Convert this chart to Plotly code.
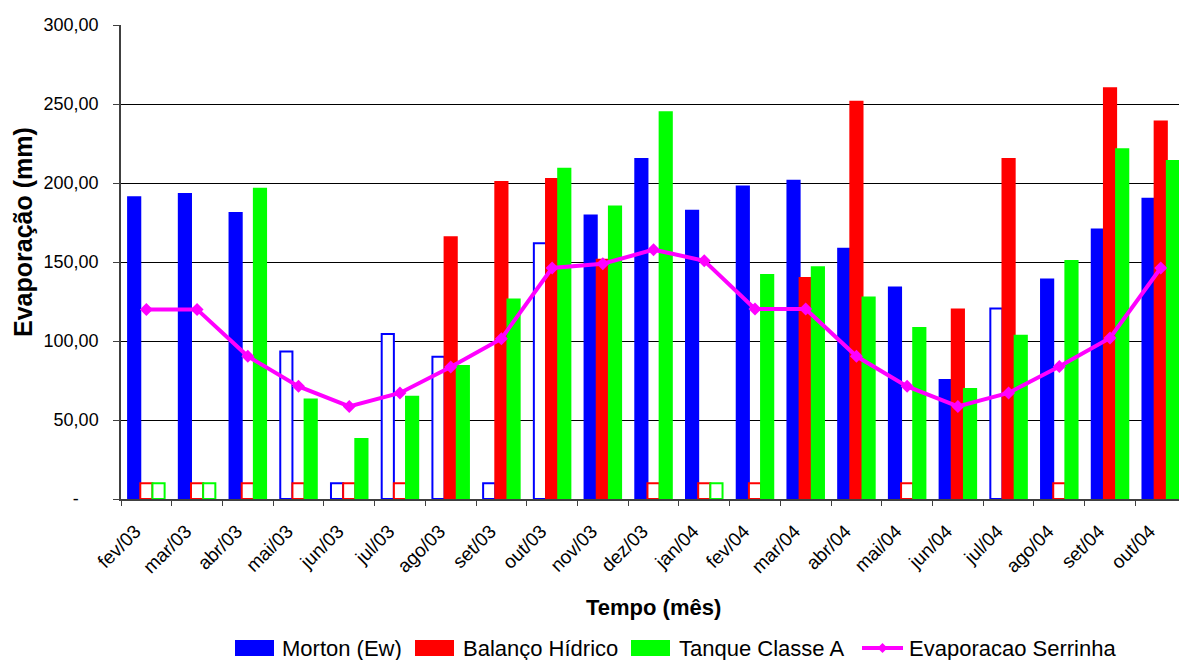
import plotly.graph_objects as go

# Months (fev/03 .. out/04)
months = ["fev/03", "mar/03", "abr/03", "mai/03", "jun/03", "jul/03", "ago/03",
          "set/03", "out/03", "nov/03", "dez/03", "jan/04", "fev/04", "mar/04",
          "abr/04", "mai/04", "jun/04", "jul/04", "ago/04", "set/04", "out/04"]

# Evaporation series (mm)
morton = [191, 193, 181, 93.4, 10, 104.4, 90, 10, 161.8, 179.5, 215.2, 182.5,
          197.8, 201.5, 158.4, 133.9, 75.3, 120.6, 139, 170.6, 190]
balanco = [10, 10, 10, 10, 10, 10, 165.6, 200.6, 202.5, 151.5, 10, 10,
           10, 139.9, 251.5, 10, 120, 215.2, 10, 260, 239]
tanque = [10, 10, 196.4, 63, 38, 64.7, 84.2, 126.3, 209, 185.2, 244.7, 10,
          141.8, 146.6, 127.6, 108.2, 69.6, 103.4, 150.6, 221.3, 213.9]
serrinha = [120, 120, 90.3, 71.3, 58.6, 67.1, 83.5, 101.5, 146.2, 148.9, 157.8,
            150.8, 120.3, 120.3, 90.3, 71.3, 58.6, 67.1, 83.9, 101.9, 146.2]

# Months drawn as outline-only bars in each series
morton_open = [3, 4, 5, 6, 7, 8, 17]
balanco_open = [0, 1, 2, 3, 4, 5, 10, 11, 12, 15, 18]
tanque_open = [0, 1, 11]

y_ticks = [0, 50, 100, 150, 200, 250, 300]
y_ticktext = ["-\u00a0\u00a0\u00a0\u00a0", "50,00", "100,00", "150,00",
              "200,00", "250,00", "300,00"]

FONT = "Liberation Sans, Arial, sans-serif"
W, H = 1179, 660
L, R, T, B = 121, 0, 25, 161


def fills(color, open_idx, n):
    return ["white" if i in open_idx else color for i in range(n)]


fig = go.Figure()
for name, vals, color, open_idx in [
    ("Morton (Ew)", morton, "#0000FF", morton_open),
    ("Balanço Hídrico", balanco, "#FF0000", balanco_open),
    ("Tanque Classe A", tanque, "#00FF00", tanque_open),
]:
    fig.add_trace(go.Bar(
        x=months, y=vals, name=name,
        marker=dict(color=fills(color, open_idx, len(vals)),
                    line=dict(color=color, width=2)),
        showlegend=False,
    ))

fig.add_trace(go.Scatter(
    x=months, y=serrinha, name="Evaporacao Serrinha", mode="lines+markers",
    line=dict(color="#FF00FF", width=4),
    marker=dict(symbol="diamond", size=10, color="#FF00FF"),
    showlegend=False,
))

# pixel -> paper helpers for legend / titles
pw, ph = W - L - R, H - T - B


def px(x):
    return (x - L) / pw


def py(y):
    return (H - B - y) / ph


shapes = []
annotations = []
legend_items = [
    ("rect", "#0000FF", 235, 274, "Morton (Ew)", 280),
    ("rect", "#FF0000", 415, 454, "Balanço Hídrico", 461),
    ("rect", "#00FF00", 631, 670, "Tanque Classe A", 677),
    ("line", "#FF00FF", 862, 903, "Evaporacao Serrinha", 907),
]
ly = 648
for kind, color, x0, x1, label, tx in legend_items:
    if kind == "rect":
        shapes.append(dict(type="rect", xref="paper", yref="paper",
                           x0=px(x0), x1=px(x1), y0=py(ly + 8), y1=py(ly - 8),
                           fillcolor=color, line=dict(width=0)))
    else:
        shapes.append(dict(type="line", xref="paper", yref="paper",
                           x0=px(x0), x1=px(x1), y0=py(ly), y1=py(ly),
                           line=dict(color=color, width=4)))
        cx = (x0 + x1) / 2
        d = 5
        shapes.append(dict(type="path", xref="paper", yref="paper",
                           path=f"M {px(cx-d)},{py(ly)} L {px(cx)},{py(ly-d)} "
                                f"L {px(cx+d)},{py(ly)} L {px(cx)},{py(ly+d)} Z",
                           fillcolor=color, line=dict(width=0)))
    annotations.append(dict(text=label, xref="paper", yref="paper",
                            x=px(tx), y=py(ly), xanchor="left", yanchor="middle",
                            showarrow=False, font=dict(family=FONT, size=22, color="black")))

annotations.append(dict(text="<b>Tempo (mês)</b>", xref="paper", yref="paper",
                        x=px(653), y=py(607), xanchor="center", yanchor="middle",
                        showarrow=False, font=dict(family=FONT, size=22, color="black")))
annotations.append(dict(text="<b>Evaporação (mm)</b>", xref="paper", yref="paper",
                        x=px(23), y=py(232), xanchor="center", yanchor="middle",
                        textangle=-90, showarrow=False,
                        font=dict(family=FONT, size=25, color="black")))

fig.update_layout(
    width=W, height=H,
    margin=dict(l=L, r=R, t=T, b=B, pad=0),
    paper_bgcolor="white", plot_bgcolor="white",
    barmode="group", bargap=0.28, bargroupgap=0,
    font=dict(family=FONT, size=18, color="black"),
    shapes=shapes, annotations=annotations,
    showlegend=False,
)
fig.update_xaxes(
    type="category", range=[-0.5, 20.36],
    tickson="boundaries", ticks="outside", ticklen=5, tickcolor="#404040",
    tickangle=-45, showline=True, linecolor="#404040", linewidth=1.5,
    showgrid=False, ticklabelstandoff=12, ticklabelshift=-11,
    tickfont=dict(family=FONT, size=19, color="black"),
)
fig.update_yaxes(
    range=[0, 300], tickvals=y_ticks, ticktext=y_ticktext,
    ticks="outside", ticklen=6, tickcolor="#404040",
    showline=True, linecolor="#404040", linewidth=1.5,
    showgrid=True, gridcolor="#000000", gridwidth=1,
    zeroline=False, ticklabelstandoff=11,
    tickfont=dict(family=FONT, size=18, color="black"),
)

fig.write_html("out.html")
